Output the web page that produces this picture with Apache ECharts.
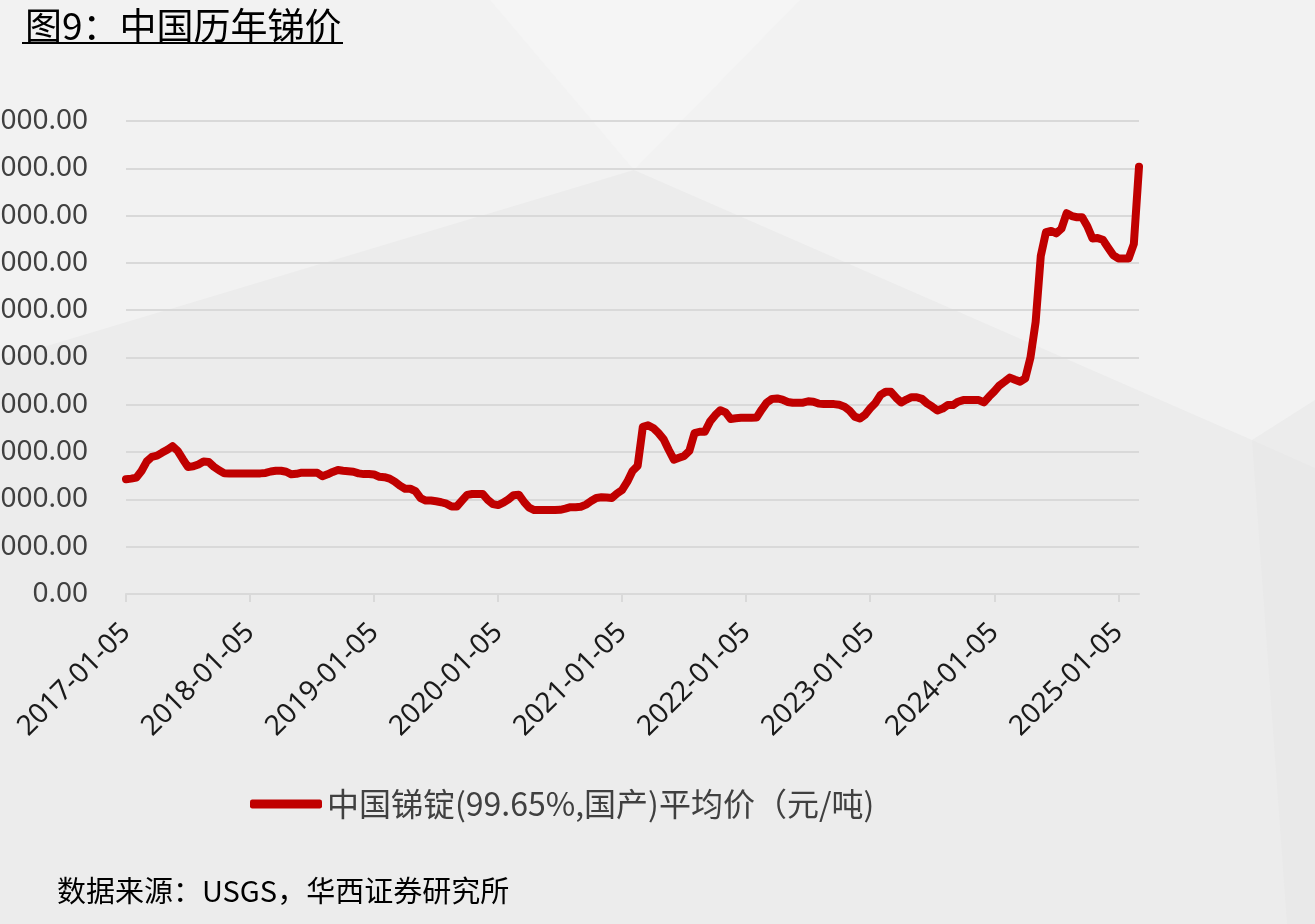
<!DOCTYPE html>
<html>
<head>
<meta charset="utf-8">
<title>图9：中国历年锑价</title>
<script src="https://cdn.jsdelivr.net/npm/echarts@6/dist/echarts.min.js"></script>
<style>
  html, body { margin: 0; padding: 0; background: #ececec; }
  #main { width: 1315px; height: 924px; }
</style>
</head>
<body>
<div id="main"></div>
<script>
// 半月度日期（每月5日、20日），2017-01-05 至 2025-03-05
var dates = [];
for (var y = 2017; y <= 2025; y++) {
    for (var m = 1; m <= 12; m++) {
        var mm = (m < 10 ? '0' : '') + m;
        dates.push(y + '-' + mm + '-05');
        if (y === 2025 && m === 3) break;
        dates.push(y + '-' + mm + '-20');
    }
}

var seriesName = '中国锑锭(99.65%,国产)平均价（元/吨)';

// 元/吨
var prices = [
    // 2017
    48500, 48800, 49200, 52000, 56000, 58000, 58500, 59800, 61000, 62500, 60500, 57000,
    53700, 54000, 54800, 56000, 55800, 53800, 52300, 51100, 51000, 51000, 51000, 51000,
    // 2018
    51000, 51000, 51000, 51200, 51800, 52100, 52100, 51700, 50600, 50800, 51300, 51300,
    51300, 51300, 49800, 50600, 51600, 52400, 52100, 51900, 51700, 51000, 50700, 50700,
    // 2019
    50500, 49600, 49400, 48800, 47500, 45800, 44500, 44500, 43500, 40500, 39500, 39500,
    39200, 38800, 38200, 37000, 37000, 39500, 41900, 42300, 42300, 42300, 39800, 38000,
    // 2020
    37600, 38600, 40000, 41800, 42000, 39000, 36500, 35500, 35500, 35500, 35500, 35500,
    35600, 36100, 36700, 36700, 36900, 37800, 39300, 40600, 40900, 40800, 40600, 42500,
    // 2021
    44000, 47500, 52000, 54200, 70700, 71300, 70200, 68100, 65500, 61000, 56800, 57600,
    58400, 60500, 68000, 68600, 68600, 72900, 75600, 77700, 76800, 74000, 74300, 74500,
    // 2022
    74500, 74500, 74600, 78000, 81000, 82500, 82700, 82200, 81200, 80900, 80900, 80900,
    81500, 81300, 80500, 80300, 80300, 80300, 80000, 79200, 77500, 75000, 74200, 75800,
    // 2023
    78500, 80800, 84200, 85500, 85500, 83000, 81000, 82200, 83200, 83200, 82500, 80600,
    79200, 77600, 78400, 79900, 79900, 81300, 82000, 82000, 82000, 82000, 81000, 83500,
    // 2024
    85700, 88200, 89800, 91500, 90600, 89800, 91200, 100000, 115000, 143000, 153000, 153500,
    152500, 154500, 161000, 159800, 159300, 159300, 155500, 150300, 150500, 149800, 146500, 143300,
    // 2025
    141900, 141900, 141900, 148000, 180700
];

var yMax = 200000;
var yStep = 20000;

var myChart = echarts.init(document.getElementById('main'));

myChart.setOption({
    backgroundColor: '#ececec',
    animation: false,
    title: {
        text: '图9：中国历年锑价',
        left: 20,
        top: 2,
        textStyle: {
            fontFamily: 'Noto Sans CJK SC',
            fontSize: 37,
            fontWeight: 'normal',
            color: '#000'
        }
    },
    graphic: [
        // 背景的浅色斜面
        {
            type: 'polygon', z: -10, silent: true,
            shape: { points: [[0, 0], [1315, 0], [1315, 400], [1252, 440], [634, 170], [0, 360]] },
            style: { fill: '#f2f2f2' }
        },
        {
            type: 'polygon', z: -9, silent: true,
            shape: { points: [[490, 0], [800, 0], [634, 170]] },
            style: { fill: '#f5f5f5' }
        },
        {
            type: 'polygon', z: -9, silent: true,
            shape: { points: [[1252, 440], [1315, 468], [1315, 924], [1287, 924]] },
            style: { fill: '#e9e9e9' }
        },
        // 标题下划线
        {
            type: 'line', silent: true,
            shape: { x1: 22, y1: 43, x2: 343, y2: 43 },
            style: { stroke: '#000', lineWidth: 2 }
        },
        {
            type: 'text', left: 57, top: 876, silent: true,
            style: {
                text: '数据来源：USGS，华西证券研究所',
                fontFamily: 'Noto Sans CJK SC',
                fontSize: 29,
                fill: '#000'
            }
        }
    ],
    legend: {
        data: [seriesName],
        left: 245,
        top: 783,
        icon: 'roundRect',
        itemWidth: 72,
        itemHeight: 9,
        itemGap: 6,
        textStyle: {
            fontFamily: 'Noto Sans CJK SC',
            fontSize: 32,
            color: '#404040'
        }
    },
    grid: {
        left: 126,
        right: 176,
        top: 121,
        bottom: 330,
        containLabel: false,
        outerBoundsMode: 'none'
    },
    xAxis: {
        type: 'category',
        data: dates,
        boundaryGap: false,
        axisLine: { lineStyle: { color: '#d9d9d9', width: 2 } },
        axisTick: {
            interval: 23,
            length: 8,
            lineStyle: { color: '#d9d9d9', width: 2 }
        },
        axisLabel: {
            interval: 23,
            rotate: 45,
            margin: 34,
            fontFamily: 'Noto Sans',
            fontSize: 28,
            color: '#1a1a1a'
        },
        splitLine: { show: false }
    },
    yAxis: {
        type: 'value',
        min: 0,
        max: yMax,
        interval: yStep,
        axisLine: { show: false },
        axisTick: { show: false },
        axisLabel: {
            margin: 38,
            fontFamily: 'Noto Sans',
            fontSize: 28,
            color: '#404040',
            formatter: function (v) { return v.toFixed(2); }
        },
        splitLine: { lineStyle: { color: '#d9d9d9', width: 2 } }
    },
    series: [{
        name: seriesName,
        type: 'line',
        data: prices,
        showSymbol: false,
        symbol: 'none',
        itemStyle: { color: '#c00000' },
        lineStyle: { color: '#c00000', width: 8, cap: 'round', join: 'round' }
    }]
});
</script>
</body>
</html>
